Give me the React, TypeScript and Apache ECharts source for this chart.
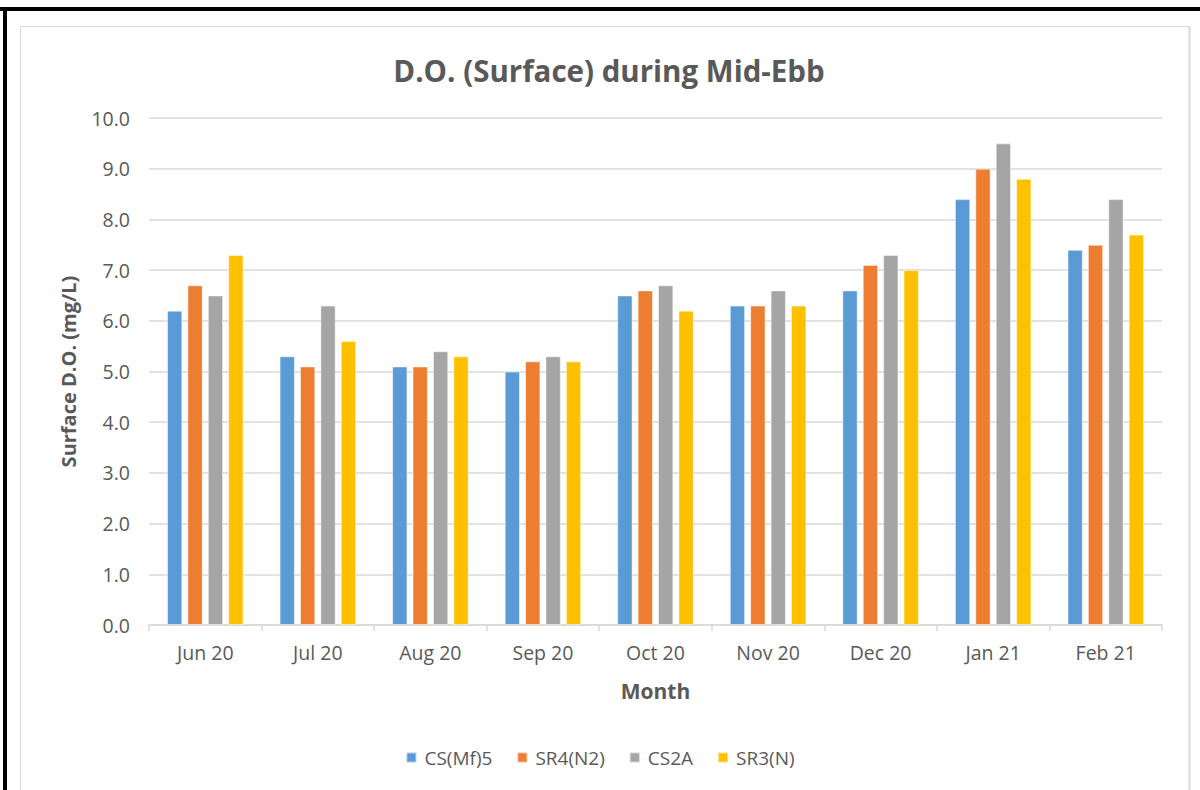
import React, { useEffect, useRef } from "react";
import * as echarts from "echarts";

const months = ["Jun 20", "Jul 20", "Aug 20", "Sep 20", "Oct 20", "Nov 20", "Dec 20", "Jan 21", "Feb 21"];
const csMf5 = [6.2, 5.3, 5.1, 5.0, 6.5, 6.3, 6.6, 8.4, 7.4];
const sr4N2 = [6.7, 5.1, 5.1, 5.2, 6.6, 6.3, 7.1, 9.0, 7.5];
const cs2A = [6.5, 6.3, 5.4, 5.3, 6.7, 6.6, 7.3, 9.5, 8.4];
const sr3N = [7.3, 5.6, 5.3, 5.2, 6.2, 6.3, 7.0, 8.8, 7.7];

const seriesNames = ["CS(Mf)5", "SR4(N2)", "CS2A", "SR3(N)"];
const seriesData = [csMf5, sr4N2, cs2A, sr3N];
const colors = ["#5B9BD5", "#ED7D31", "#A5A5A5", "#FFC000"];

const FONT = "'Open Sans', 'Noto Sans', sans-serif";

export default function App() {
  const ref = useRef<HTMLDivElement>(null);
  useEffect(() => {
    if (!ref.current) return;
    const chart = echarts.init(ref.current, null, { renderer: "svg" });
    chart.setOption({
      animation: false,
      backgroundColor: "#ffffff",
      color: colors,
      textStyle: { fontFamily: FONT },
      title: {
        text: "D.O. (Surface) during Mid-Ebb",
        left: 604,
        top: 50,
        textAlign: "center",
        textStyle: { fontSize: 29.5, fontWeight: "bold", color: "#595959", fontFamily: FONT },
      },
      legend: {
        data: seriesNames,
        bottom: 18,
        left: "center",
        icon: "rect",
        itemWidth: 10,
        itemHeight: 10,
        itemGap: 24,
        textStyle: { fontSize: 19, color: "#595959", fontFamily: FONT, padding: [0, 0, 0, 3] },
      },
      grid: { left: 149, right: 38, top: 118, bottom: 165 },
      xAxis: {
        type: "category",
        data: months,
        name: "Month",
        nameLocation: "middle",
        nameGap: 55,
        nameTextStyle: { fontSize: 21, fontWeight: "bold", color: "#595959", fontFamily: FONT },
        axisLine: { lineStyle: { color: "#D9D9D9", width: 1.5 } },
        axisTick: { show: true, length: 6, lineStyle: { color: "#D9D9D9", width: 1.5 } },
        axisLabel: { fontSize: 19.5, color: "#595959", margin: 17, fontFamily: FONT },
      },
      yAxis: {
        type: "value",
        min: 0,
        max: 10,
        interval: 1,
        name: "Surface D.O. (mg/L)",
        nameLocation: "middle",
        nameGap: 71,
        nameRotate: 90,
        nameTextStyle: { fontSize: 20, fontWeight: "bold", color: "#595959", fontFamily: FONT },
        axisLine: { show: false },
        axisTick: { show: false },
        axisLabel: { fontSize: 19.5, color: "#595959", margin: 19, formatter: (v: number) => v.toFixed(1), fontFamily: FONT },
        splitLine: { lineStyle: { color: "#D9D9D9", width: 1.5 } },
      },
      series: seriesNames.map((name, i) => ({
        name,
        type: "bar",
        data: seriesData[i],
        barGap: "33%",
        barCategoryGap: "32%",
        itemStyle: { color: colors[i], borderColor: "rgba(255,255,255,0.5)", borderWidth: 1 },
      })),
      graphic: [
        { type: "rect", shape: { x: 0, y: 7, width: 1200, height: 4 }, style: { fill: "#000" }, z: 100 },
        { type: "rect", shape: { x: 3, y: 7, width: 4, height: 790 }, style: { fill: "#000" }, z: 100 },
        { type: "line", shape: { x1: 20.5, y1: 26, x2: 20.5, y2: 790 }, style: { stroke: "#D9D9D9", lineWidth: 1 }, z: 100 },
        { type: "line", shape: { x1: 20, y1: 26.5, x2: 1190, y2: 26.5 }, style: { stroke: "#D9D9D9", lineWidth: 1 }, z: 100 },
        { type: "line", shape: { x1: 1189.5, y1: 26, x2: 1189.5, y2: 790 }, style: { stroke: "#D9D9D9", lineWidth: 2 }, z: 100 },
      ],
    });
    return () => chart.dispose();
  }, []);
  return <div ref={ref} style={{ position: "absolute", left: 0, top: 0, width: 1200, height: 790 }} />;
}
